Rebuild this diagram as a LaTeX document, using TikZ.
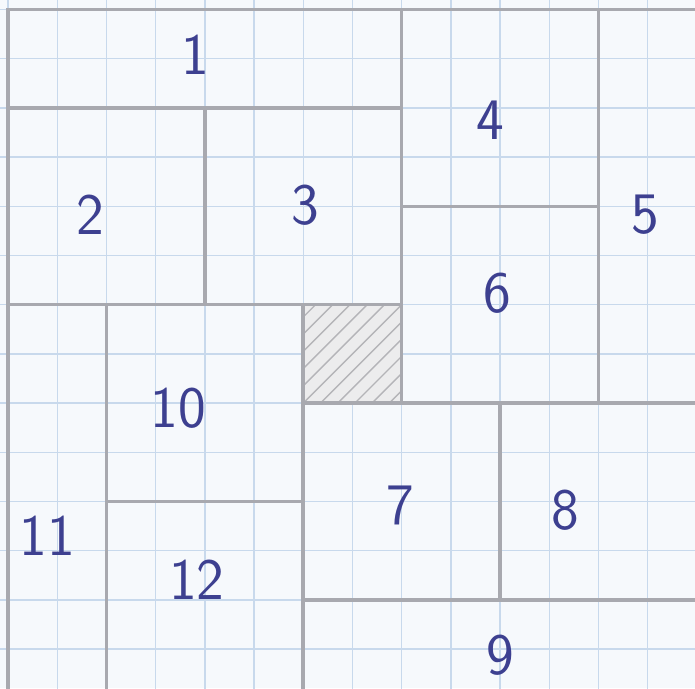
\documentclass[tikz,border=0pt]{standalone}
\usepackage{tikz}
\definecolor{planpaper}{HTML}{F6F9FC}
\definecolor{plangrid}{HTML}{C8D9EC}
\definecolor{planwall}{HTML}{A8A9AF}
\definecolor{planhatch}{HTML}{B4B4B8}
\definecolor{planink}{HTML}{3D4090}

\begin{document}
\begin{tikzpicture}[y=-1cm,
    gridline/.style={draw=plangrid,line width=0.8pt},
    wall/.style={draw=planwall,line width=2pt},
    roomlabel/.style={planink,font=\fontsize{34}{34}\selectfont\sffamily}]
    \useasboundingbox[fill=planpaper] (-0.163,-0.193) rectangle (13.963,13.791);
    % paper grid
    \foreach \k in {0,...,14}{
      \draw[gridline] (\k,-0.2) -- (\k,14);
      \draw[gridline] (-0.2,\k) -- (14.1,\k);
    }
    % hatched square
    \fill[planhatch!25] (6,6) rectangle (8,8);
    \begin{scope}
      \clip (6,6) rectangle (8,8);
      \foreach \d in {-2.1,-1.75,...,2.1}{
        \draw[planhatch,line width=0.8pt] (6+\d,8) -- ++(2,-2);
      }
    \end{scope}
    % rooms
    \foreach \xa/\ya/\xb/\yb in {0/0/8/2, 0/2/4/6, 4/2/8/6, 8/0/12/4, 12/0/14/8, 8/4/12/8,
      6/6/8/8, 2/6/6/10, 0/6/2/14, 2/10/6/14, 6/8/10/12, 10/8/14/12, 6/12/14/14}{
      \draw[wall] (\xa,\ya) rectangle (\xb,\yb);
    }
    % numbers
    \node[roomlabel] (room1) at (3.80,0.92) {1};
    \node[roomlabel] (room2) at (1.67,4.18) {2};
    \node[roomlabel] (room3) at (6.04,3.98) {3};
    \node[roomlabel] (room4) at (9.80,2.25) {4};
    \node[roomlabel] (room5) at (12.95,4.18) {5};
    \node[roomlabel] (room6) at (9.94,5.76) {6};
    \node[roomlabel] (room7) at (7.97,10.07) {7};
    \node[roomlabel] (room8) at (11.32,10.17) {8};
    \node[roomlabel] (room9) at (10.0,13.12) {9};
    \node[roomlabel] (room10) at (3.46,8.10) {10};
    \node[roomlabel] (room11) at (0.8,10.69) {11};
    \node[roomlabel] (room12) at (3.84,11.60) {12};
  \end{tikzpicture}
\end{document}
